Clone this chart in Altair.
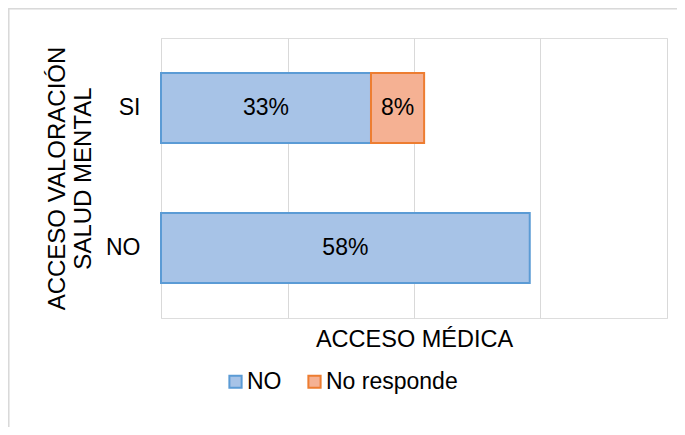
import altair as alt
import pandas as pd

# ---- data ----
acceso_valoracion = ["SI", "SI", "NO"]
serie = ["NO", "No responde", "NO"]
valores = [0.332, 0.084, 0.583]
orden = [0, 1, 0]
etiquetas = ["33%", "8%", "58%"]

categorias_y = ["SI", "NO"]
series = ["NO", "No responde"]
colores_relleno = ["#a7c3e7", "#f5b193"]
colores_borde = ["#5b9bd5", "#ed7d31"]
ticks_x = [0, 0.2, 0.4, 0.6, 0.8]

df = pd.DataFrame({
    "acceso": acceso_valoracion,
    "serie": serie,
    "valor": valores,
    "orden": orden,
    "etiqueta": etiquetas,
})

FONT = "Liberation Sans"
FS = 23

base = alt.Chart(df).transform_stack(
    stack="valor",
    groupby=["acceso"],
    as_=["x0", "x1"],
    sort=[alt.SortField("orden", order="ascending")],
).transform_calculate(mid="(datum.x0 + datum.x1) / 2")

y_enc = alt.Y(
    "acceso:N",
    sort=categorias_y,
    scale=alt.Scale(paddingInner=0.5, paddingOuter=0.25),
    axis=alt.Axis(
        title=["ACCESO VALORACIÓN", "SALUD MENTAL"],
        titleFontSize=24,
        titleFontWeight="normal",
        titleColor="#000000",
        titleFont=FONT,
        titleLineHeight=26,
        titleX=-92,
        domain=False,
        ticks=False,
        tickSize=0,
        labelPadding=21,
        labelFontSize=FS,
        labelFont=FONT,
        labelColor="#000000",
        grid=False,
    ),
)

x_axis = alt.Axis(
    values=ticks_x,
    labels=False,
    ticks=False,
    tickSize=0,
    domain=False,
    grid=True,
    gridColor="#d9d9d9",
    gridWidth=1,
    title="ACCESO MÉDICA",
    titleFontSize=23.5,
    titleFontWeight="normal",
    titleColor="#000000",
    titleFont=FONT,
    titleBaseline="alphabetic",
    titleY=28,
)

leg = alt.Legend(
    title=None,
    orient="none",
    legendX=63,
    legendY=332,
    direction="horizontal",
    symbolType="square",
    symbolSize=150,
    symbolStrokeWidth=2,
    labelFontSize=FS,
    labelFont=FONT,
    labelColor="#000000",
    labelOffset=0,
    columnPadding=21,
)

bars = base.mark_bar(strokeWidth=2).encode(
    x=alt.X("x0:Q", scale=alt.Scale(domain=[0, 0.8], nice=False, zero=True), axis=x_axis),
    x2="x1:Q",
    y=y_enc,
    fill=alt.Fill("serie:N", scale=alt.Scale(domain=series, range=colores_relleno), legend=leg),
    stroke=alt.Stroke("serie:N", scale=alt.Scale(domain=series, range=colores_borde), legend=leg),
)

texts = base.mark_text(fontSize=FS, font=FONT, color="#000000", baseline="middle", align="center").encode(
    x=alt.X("mid:Q"),
    y=alt.Y("acceso:N", sort=categorias_y),
    text="etiqueta:N",
)

frame_left = alt.Chart(df).mark_rule(stroke="#d9d9d9", strokeWidth=1.5).encode(
    x=alt.value(-152.5), y=alt.value(-29.5), y2=alt.value(420)
)
frame_top = alt.Chart(df).mark_rule(stroke="#d9d9d9", strokeWidth=1.5).encode(
    x=alt.value(-152.5), x2=alt.value(516), y=alt.value(-29.5)
)

chart = alt.layer(frame_left, frame_top, bars, texts).properties(
    width=506,
    height=280,
    autosize=alt.AutoSizeParams(type="none"),
    padding={"left": 153, "top": 30, "right": 10, "bottom": 109},
).configure_view(stroke=None).configure(font=FONT)

chart.save("out.html", embed_options={"renderer": "svg", "actions": False})
